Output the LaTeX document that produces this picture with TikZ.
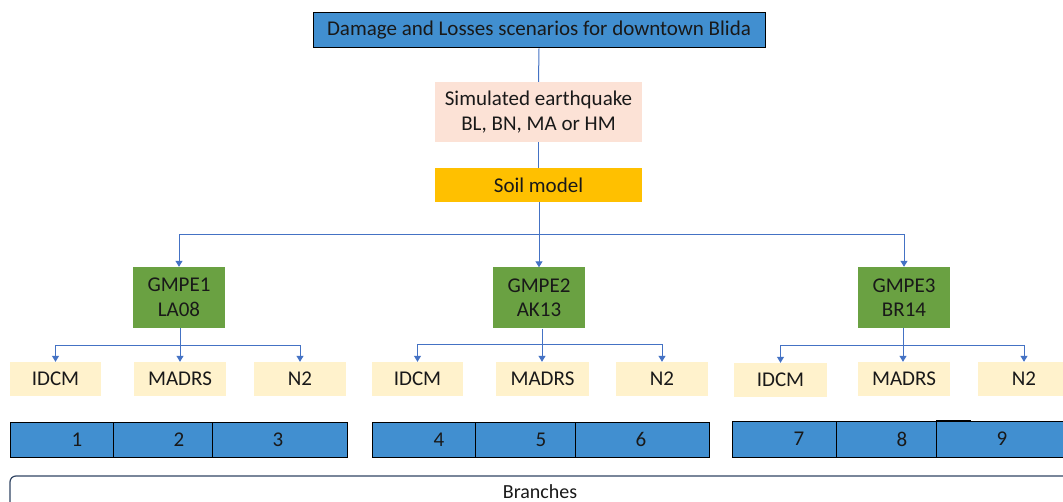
\documentclass[tikz,border=0pt]{standalone}
\usepackage{fontspec}
\setmainfont{Carlito}
\usetikzlibrary{arrows.meta}
\definecolor{hdrblue}{RGB}{65,143,208}
\definecolor{peach}{RGB}{252,226,214}
\definecolor{soil}{RGB}{255,192,0}
\definecolor{gmpe}{RGB}{106,161,66}
\definecolor{leaf}{RGB}{255,242,204}
\definecolor{wire}{RGB}{68,114,196}
\definecolor{frame}{RGB}{50,70,100}
\tikzset{
  bx/.style={rectangle, inner sep=0pt, align=center, text=black!90, font=\fontsize{21}{24.5}\selectfont},
  topbox/.style={bx, draw=black, line width=1pt, fill=hdrblue, minimum width=452pt, minimum height=35pt},
  simbox/.style={bx, fill=peach, minimum width=207pt, minimum height=60pt},
  soilbox/.style={bx, fill=soil, minimum width=207pt, minimum height=34pt},
  gmpebox/.style={bx, fill=gmpe, minimum width=92pt, minimum height=61pt},
  leafbox/.style={bx, fill=leaf, minimum width=92pt, minimum height=34pt},
  cellbox/.style={rectangle, draw=black, line width=1.1pt, fill=hdrblue, inner sep=0pt, anchor=north west},
  numtxt/.style={bx},
  wireline/.style={draw=wire, line width=1pt},
  arr/.style={wireline, -{Triangle[width=7pt,length=6pt]}},
}
\begin{document}
\begin{tikzpicture}[x=1pt,y=-1pt]
\clip (0,0) rectangle (1063,502);
\fill[white] (0,0) rectangle (1063,502);

\node[topbox] (top) at (539,30.5) {Damage and Losses scenarios for downtown Blida};
\node[simbox] (sim) at (538.5,112) {Simulated earthquake\\BL, BN, MA or HM};
\node[soilbox] (soil) at (538.5,185) {Soil model};

\node[gmpebox] (g1) at (179,297.5) {GMPE1\\LA08};
\node[gmpebox] (g2) at (539,298) {GMPE2\\AK13};
\node[gmpebox] (g3) at (904,297.5) {GMPE3\\BR14};

\node[leafbox, minimum width=91pt] (l1) at (55.5,379) {IDCM};
\node[leafbox] (l2) at (180,379) {MADRS};
\node[leafbox] (l3) at (300,379) {N2};
\node[leafbox, minimum width=91pt] (l4) at (417.5,379) {IDCM};
\node[leafbox, minimum width=93pt] (l5) at (542.5,379) {MADRS};
\node[leafbox] (l6) at (662,379) {N2};
\node[leafbox, minimum width=93pt] (l7) at (780.5,380) {IDCM};
\node[leafbox] (l8) at (904,379) {MADRS};
\node[leafbox] (l9) at (1024,379) {N2};

% connectors
\draw[wireline] (top.south) -- (sim.north);
\draw[wireline] (sim.south) -- (soil.north);
\coordinate (b0) at (539,235);
\draw[wireline] (soil.south -| b0) -- (b0);
\draw[arr] (b0) -| (g1.north);
\draw[arr] (b0) -| (g2.north);
\draw[arr] (b0) -| (g3.north);

\coordinate (s1) at (180,346);
\draw[wireline] (g1.south -| s1) -- (s1);
\draw[arr] (s1) -| (l1.north);
\draw[arr] (s1) -- (s1 |- l2.north);
\draw[arr] (s1) -| (l3.north);

\coordinate (s2) at (542,345);
\draw[wireline] (g2.south -| s2) -- (s2);
\draw[arr] (s2) -| (l4.north);
\draw[arr] (s2) -- (s2 |- l5.north);
\draw[arr] (s2) -| (l6.north);

\coordinate (s3) at (903,346);
\draw[wireline] (g3.south -| s3) -- (s3);
\draw[arr] (s3) -| (l7.north);
\draw[arr] (s3) -- (s3 |- l8.north);
\draw[arr] (s3) -| (l9.north);

% branch bars
\node[cellbox, minimum width=103pt, minimum height=35pt] (c1) at (10,422) {};
\node[cellbox, minimum width=99pt, minimum height=35pt] (c2) at (113,422) {};
\node[cellbox, minimum width=135pt, minimum height=35pt] (c3) at (212,422) {};
\node[cellbox, minimum width=103pt, minimum height=35pt] (c4) at (372,422) {};
\node[cellbox, minimum width=100pt, minimum height=35pt] (c5) at (475,422) {};
\node[cellbox, minimum width=134pt, minimum height=35pt] (c6) at (575,422) {};
\node[cellbox, minimum width=104pt, minimum height=36pt] (c7) at (732,421) {};
\node[cellbox, minimum width=100pt, minimum height=36pt] (c8) at (836,421) {};
\node[cellbox, minimum width=140pt, minimum height=36pt] (c9) at (936,421) {};
\draw[black, line width=2pt] (c9.north west) -- ++(35,0);

\node[numtxt] (n1) at (77,439.5) {1};
\node[numtxt] (n2) at (179,439.5) {2};
\node[numtxt] (n3) at (278,439.5) {3};
\node[numtxt] (n4) at (439,439.5) {4};
\node[numtxt] (n5) at (541,439.5) {5};
\node[numtxt] (n6) at (641,439.5) {6};
\node[numtxt] (n7) at (799,439) {7};
\node[numtxt] (n8) at (902,439) {8};
\node[numtxt] (n9) at (1002,439) {9};

% branches frame
\draw[frame, line width=1.2pt, rounded corners=6pt] (10,530) -- (10,476) -- (1080,476) -- (1080,530);
\node[bx, font=\fontsize{20}{24}\selectfont] (br) at (540,492) {Branches};
\end{tikzpicture}
\end{document}
